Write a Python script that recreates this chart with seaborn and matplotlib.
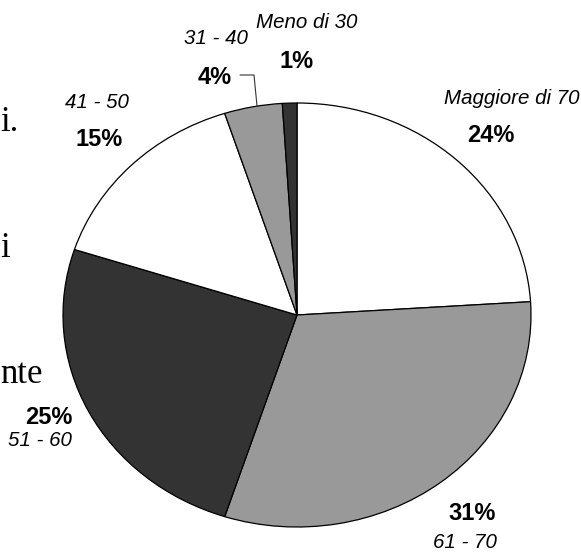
import matplotlib
matplotlib.use("Agg")
import matplotlib.pyplot as plt
import seaborn as sns

# Age groups and their shares (percent), clockwise from 12 o'clock
age_groups = ['Maggiore di 70', '61 - 70', '51 - 60', '41 - 50', '31 - 40', 'Meno di 30']
shares = [24, 31, 25, 15, 4, 1]
pct_labels = ['24%', '31%', '25%', '15%', '4%', '1%']
slice_colors = ['#ffffff', '#999999', '#333333', '#ffffff', '#999999', '#333333']

# Bits of the page text that show at the left edge
page_text = ['i.', 'i', 'nte']

sns.set_style('white')
plt.rcParams['font.family'] = ['Liberation Sans', 'DejaVu Sans']

W, H = 581, 553
# pie centre and radii in pixels (the pie is a bit squashed vertically)
CX, CY, RX, RY = 297, 315, 234, 212


def px(x, y):
    # pixel position -> data coords of the pie axes
    return (x - CX) / RX, (CY - y) / RY


fig = plt.figure(figsize=(W / 100, H / 100), dpi=100)
ax = fig.add_axes([0, 0, 1, 1])
ax.pie(shares, colors=slice_colors, startangle=90, counterclock=False,
       wedgeprops=dict(edgecolor='black', linewidth=0.9))
ax.set_aspect('auto')
ax.set_xlim(px(0, 0)[0], px(W, 0)[0])
ax.set_ylim(px(0, H)[1], px(0, 0)[1])
ax.axis('off')

# label placement (pixels): name position, percent position, alignment
name_pos = [(512, 98), (465, 543), (72, 440), (97, 103), (216, 38), (307, 22)]
pct_pos = [(491, 135), (472, 513), (72, 418), (99, 140), (215, 77), (297, 62)]
align = ['center', 'center', 'right', 'center', 'center', 'center']

for name, pct, npos, ppos, ha in zip(age_groups, pct_labels, name_pos, pct_pos, align):
    ax.text(*px(*npos), name, fontsize=14.8, fontstyle='italic',
            ha=ha, va='center', color='black')
    ax.text(*px(*ppos), pct, fontsize=17, fontweight='bold',
            ha=ha, va='center', color='black')

# leader line for the 4% slice
lx, ly = zip(px(240, 75), px(254, 75), px(257, 106))
ax.plot(lx, ly, color='#333333', lw=0.8, clip_on=False)

# page text fragments (serif, at the left edge)
text_pos = [(0, 131), (0, 257), (0, 383)]
for t, (x, y) in zip(page_text, text_pos):
    ax.text(*px(x, y), t, fontsize=25, family='Liberation Serif',
            ha='left', va='baseline', color='black')

fig.savefig('out.png', dpi=100)
